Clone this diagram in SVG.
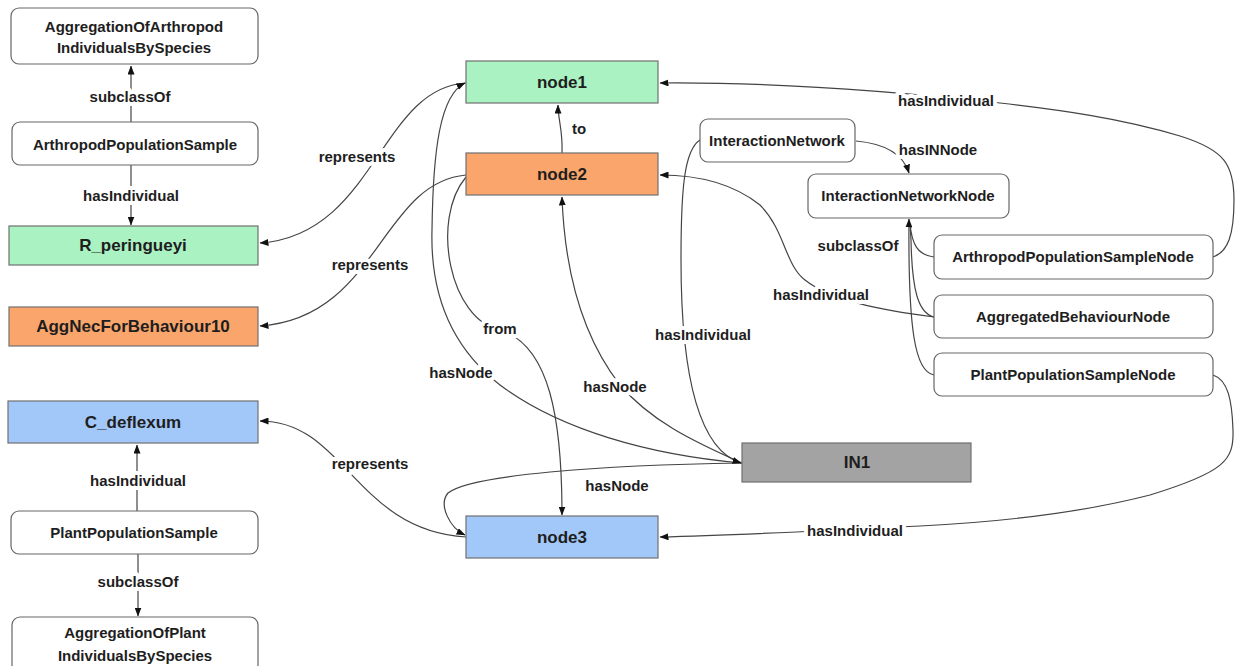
<svg xmlns="http://www.w3.org/2000/svg" width="1236" height="666" viewBox="0 0 1236 666">
<defs>
<marker id="arr" markerUnits="userSpaceOnUse" markerWidth="9" markerHeight="7" refX="8.5" refY="3.5" orient="auto">
<path d="M0,0 L9,3.5 L0,7 z" fill="#111"/>
</marker>
<style>
.cls{fill:#fff;stroke:#666;stroke-width:1.2}
.ind{stroke:#707070;stroke-width:1.2}
.g{fill:#aaf2c2}.o{fill:#f9a56b}.b{fill:#a2c8f9}.gr{fill:#a3a3a3}
.t{font-family:"Liberation Sans",Arial,sans-serif;font-weight:bold;fill:#1e1e1e;text-anchor:middle}
.tc{font-size:15px}.ti{font-size:17px}
.lbl{font-family:"Liberation Sans",Arial,sans-serif;font-weight:bold;font-size:15px;fill:#1e1e1e;text-anchor:middle;paint-order:stroke;stroke:#fff;stroke-width:8px;stroke-linejoin:round}
.e{fill:none;stroke:#444;stroke-width:1.2}
.ea{fill:none;stroke:#444;stroke-width:1.2;marker-end:url(#arr)}
</style>
</defs>
<rect width="1236" height="666" fill="#fff"/>

<g id="connectors">
<!-- left column -->
<path class="ea" d="M131,122 L131,66"/>
<path class="ea" d="M131,165 L131,225"/>
<path class="ea" d="M137,511 L137,445"/>
<path class="ea" d="M138,554 L138,616"/>
<!-- represents -->
<path class="ea" d="M466,83 C380,88 375,235 260,243"/>
<path class="ea" d="M466,175 C380,183 378,318 260,326"/>
<path class="ea" d="M466,537 C355,530 345,421 260,421"/>
<!-- to -->
<path class="ea" d="M562,153 C563,130 558,120 558,105"/>
<!-- from -->
<path class="ea" d="M466,177 C430,220 450,320 500,330 C550,345 562,420 562,515"/>
<!-- hasNode IN1 -> node1 -->
<path class="ea" d="M742,463 C650,455 560,430 500,385 C455,350 430,300 432,230 C433,150 440,95 465,83"/>
<!-- hasNode IN1 -> node2 -->
<path class="ea" d="M742,463 C690,440 650,420 620,385 C585,340 565,280 562,197"/>
<!-- hasNode IN1 -> node3 -->
<path class="ea" d="M742,463 C600,465 470,475 448,493 C438,505 450,528 465,535"/>
<!-- hasIndividual InteractionNetwork -> IN1 -->
<path class="ea" d="M700,140 C684,150 681,190 681,260 C681,380 700,450 741,463"/>
<!-- hasINNode -->
<path class="ea" d="M856,141 C878,143 902,150 909,173"/>
<!-- subclassOf bundle -->
<path class="e" d="M934,257 C918,255 912,245 910,224"/>
<path class="e" d="M934,317 C918,313 912,290 911,240 L910,224"/>
<path class="ea" d="M934,375 C915,372 908,330 909,219"/>
<!-- hasIndividual ABN -> node2 -->
<path class="ea" d="M934,317 C880,310 830,300 805,280 C785,265 785,230 760,205 C735,185 700,175 660,175"/>
<!-- hasIndividual APSN -> node1 -->
<path class="ea" d="M1213,257 C1228,252 1234,235 1234,200 C1234,165 1225,150 1180,136 C1120,118 1060,110 1000,103 C900,92 780,82 660,83"/>
<!-- hasIndividual PPSN -> node3 -->
<path class="ea" d="M1213,375 C1228,380 1232,400 1233,430 C1234,460 1225,472 1150,495 C1080,513 1000,522 920,526 C820,531 740,535 660,537"/>

<!-- labels -->
<text class="lbl" x="130" y="102">subclassOf</text>
<text class="lbl" x="131" y="201">hasIndividual</text>
<text class="lbl" x="138" y="486">hasIndividual</text>
<text class="lbl" x="138" y="587">subclassOf</text>
<text class="lbl" x="357" y="162">represents</text>
<text class="lbl" x="370" y="270">represents</text>
<text class="lbl" x="370" y="469">represents</text>
<text class="lbl" x="579" y="134">to</text>
<text class="lbl" x="500" y="334">from</text>
<text class="lbl" x="461" y="378">hasNode</text>
<text class="lbl" x="615" y="392">hasNode</text>
<text class="lbl" x="617" y="491">hasNode</text>
<text class="lbl" x="703" y="340">hasIndividual</text>
<text class="lbl" x="938" y="155">hasINNode</text>
<text class="lbl" x="858" y="251">subclassOf</text>
<text class="lbl" x="821" y="300">hasIndividual</text>
<text class="lbl" x="946" y="106">hasIndividual</text>
<text class="lbl" x="855" y="536">hasIndividual</text>
</g>

<g id="AggregationOfArthropodIndividualsBySpecies">
<rect class="cls" x="11" y="8" width="247" height="56" rx="8"/>
<text class="t tc" x="134" y="32">AggregationOfArthropod</text>
<text class="t tc" x="134" y="53">IndividualsBySpecies</text>
</g>
<g id="ArthropodPopulationSample">
<rect class="cls" x="12" y="122" width="246" height="43" rx="8"/>
<text class="t tc" x="135" y="150">ArthropodPopulationSample</text>
</g>
<g id="R_peringueyi">
<rect class="g ind" x="9" y="226" width="249" height="39"/>
<text class="t ti" x="133" y="251">R_peringueyi</text>
</g>
<g id="AggNecForBehaviour10">
<rect class="o ind" x="9" y="307" width="249" height="39"/>
<text class="t ti" x="133" y="332">AggNecForBehaviour10</text>
</g>
<g id="C_deflexum">
<rect class="b ind" x="8" y="401" width="250" height="42"/>
<text class="t ti" x="133" y="428">C_deflexum</text>
</g>
<g id="PlantPopulationSample">
<rect class="cls" x="11" y="511" width="247" height="43" rx="8"/>
<text class="t tc" x="134" y="538">PlantPopulationSample</text>
</g>
<g id="AggregationOfPlantIndividualsBySpecies">
<rect class="cls" x="12" y="617" width="246" height="58" rx="8"/>
<text class="t tc" x="135" y="638">AggregationOfPlant</text>
<text class="t tc" x="135" y="661">IndividualsBySpecies</text>
</g>

<g id="node1">
<rect class="g ind" x="466" y="61" width="192" height="42"/>
<text class="t ti" x="562" y="88">node1</text>
</g>
<g id="node2">
<rect class="o ind" x="466" y="153" width="192" height="42"/>
<text class="t ti" x="562" y="180">node2</text>
</g>
<g id="node3">
<rect class="b ind" x="466" y="516" width="192" height="42"/>
<text class="t ti" x="562" y="543">node3</text>
</g>
<g id="IN1">
<rect class="gr ind" x="742" y="443" width="229" height="39"/>
<text class="t ti" x="857" y="468">IN1</text>
</g>
<g id="InteractionNetwork">
<rect class="cls" x="700" y="119" width="155" height="43" rx="8"/>
<text class="t tc" x="777" y="146">InteractionNetwork</text>
</g>
<g id="InteractionNetworkNode">
<rect class="cls" x="808" y="174" width="201" height="44" rx="8"/>
<text class="t tc" x="908" y="201">InteractionNetworkNode</text>
</g>
<g id="ArthropodPopulationSampleNode">
<rect class="cls" x="934" y="235" width="279" height="44" rx="8"/>
<text class="t tc" x="1073" y="262">ArthropodPopulationSampleNode</text>
</g>
<g id="AggregatedBehaviourNode">
<rect class="cls" x="934" y="295" width="279" height="43" rx="8"/>
<text class="t tc" x="1073" y="322">AggregatedBehaviourNode</text>
</g>
<g id="PlantPopulationSampleNode">
<rect class="cls" x="934" y="353" width="279" height="43" rx="8"/>
<text class="t tc" x="1073" y="380">PlantPopulationSampleNode</text>
</g>
</svg>
